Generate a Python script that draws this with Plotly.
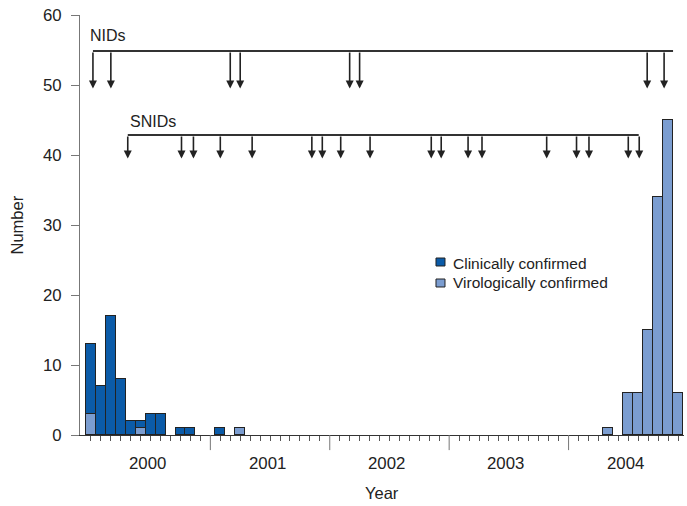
import plotly.graph_objects as go

# ---------------- data ----------------
month_index = list(range(60))  # monthly bins
clinical = [10, 7, 17, 8, 2, 1, 3, 3, 0, 1, 1, 0, 0, 1, 0, 0] + [0] * 44
virological = [3, 0, 0, 0, 0, 1, 0, 0, 0, 0, 0, 0, 0, 0, 0, 1] + [0] * 36 + [1, 0, 6, 6, 15, 34, 45, 6]

year_labels = ["2000", "2001", "2002", "2003", "2004"]
year_starts = [0, 12, 24, 36, 48]

nid_rounds = [0.2, 2.0, 14.0, 15.0, 26.0, 27.0, 55.9, 57.6]
nid_span_end = 58.5
snid_rounds = [3.7, 9.1, 10.3, 13.0, 16.2, 22.2, 23.25, 25.1, 28.05,
               34.2, 35.2, 37.9, 39.3, 45.8, 48.8, 50.05, 54.0, 55.1]
snid_span_end = 55.05

series_names = ["Clinically confirmed", "Virologically confirmed"]
colors = {"Clinically confirmed": "#0b5ba8", "Virologically confirmed": "#7b9dd0"}

FONT = "Liberation Sans, Arial, sans-serif"
TXT = "#222222"
FS_LEG = 15.5
FS_LBL = 16
FS_NUM = 16.8
FS_TITLE = 16.5

def nz(v):
    return [x if x else None for x in v]

fig = go.Figure()
fig.add_trace(go.Bar(x=month_index, y=nz(virological), name=series_names[1], width=1,
                     marker=dict(color=colors[series_names[1]], line=dict(color="#222", width=1)),
                     showlegend=False))
fig.add_trace(go.Bar(x=month_index, y=nz(clinical), name=series_names[0], width=1,
                     marker=dict(color=colors[series_names[0]], line=dict(color="#222", width=1)),
                     showlegend=False))

shapes = []
annotations = []

# campaign lines and arrows
def campaign(rounds, span_end, line_y, tip_y, label, label_x, label_y):
    shapes.append(dict(type="line", xref="x", yref="y", x0=rounds[0], x1=span_end,
                       y0=line_y, y1=line_y, line=dict(color="#333", width=2)))
    for r in rounds:
        annotations.append(dict(x=r, y=tip_y, ax=r, ay=line_y, xref="x", yref="y",
                                axref="x", ayref="y", showarrow=True, arrowhead=2,
                                arrowsize=1.0, arrowwidth=1.6, arrowcolor="#222", text=""))
    annotations.append(dict(x=label_x, y=label_y, xref="x", yref="y", text=label,
                            showarrow=False, xanchor="left", yanchor="middle",
                            font=dict(family=FONT, size=FS_LBL, color=TXT)))

campaign(nid_rounds, nid_span_end, 54.86, 49.5, "NIDs", -0.25, 57.1)
campaign(snid_rounds, snid_span_end, 42.86, 39.5, "SNIDs", 3.75, 44.85)

# year separator ticks and labels
for ys, yl in zip(year_starts, year_labels):
    if ys > 0:
        shapes.append(dict(type="line", xref="x", yref="paper", x0=ys, x1=ys, y0=0, y1=-0.036,
                           line=dict(color="#777", width=1)))
    annotations.append(dict(x=ys + 5.7, y=-0.069, xref="x", yref="paper", text=yl,
                            showarrow=False, xanchor="center", yanchor="middle",
                            font=dict(family=FONT, size=FS_NUM, color=TXT)))

# manual legend
leg_rows = [(series_names[0], 0.4214, 0.4024, 0.4095), (series_names[1], 0.3714, 0.3524, 0.362)]
for name, y1, y0, yt in leg_rows:
    shapes.append(dict(type="rect", xref="paper", yref="paper", x0=0.5894, x1=0.6043, y0=y0, y1=y1,
                       fillcolor=colors[name], line=dict(color="#222", width=1)))
    annotations.append(dict(x=0.6135, y=yt, xref="paper", yref="paper", text=name, showarrow=False,
                            xanchor="left", yanchor="middle",
                            font=dict(family=FONT, size=FS_LEG, color=TXT)))

# axis titles
annotations.append(dict(x=0.5, y=-0.138, xref="paper", yref="paper", text="Year", showarrow=False,
                        xanchor="center", yanchor="middle",
                        font=dict(family=FONT, size=FS_TITLE, color=TXT)))
annotations.append(dict(x=-0.1035, y=0.5, xref="paper", yref="paper", text="Number", showarrow=False,
                        textangle=-90, xanchor="center", yanchor="middle",
                        font=dict(family=FONT, size=FS_TITLE, color=TXT)))

small_ticks = [m for m in month_index if m not in year_starts[1:]]

fig.update_layout(
    width=687, height=506,
    margin=dict(l=80, r=3, t=15, b=71, autoexpand=False),
    paper_bgcolor="white", plot_bgcolor="white",
    barmode="stack", bargap=0,
    shapes=shapes, annotations=annotations,
    font=dict(family=FONT, size=FS_NUM, color=TXT),
    xaxis=dict(range=[-1.1, 59.6], showgrid=False, zeroline=False, showline=True,
               linecolor="#333", linewidth=1.2, tickmode="array", tickvals=small_ticks,
               ticktext=[""] * len(small_ticks), ticks="outside", ticklen=5,
               tickcolor="#555", tickwidth=1, fixedrange=True, automargin=False),
    yaxis=dict(range=[0, 60], tickvals=[0, 10, 20, 30, 40, 50, 60], showgrid=False,
               zeroline=False, showline=True, linecolor="#777", linewidth=1,
               ticks="outside", ticklen=8, tickcolor="#777", tickwidth=1,
               ticklabelstandoff=6, ticklabeloverflow="allow", automargin=False,
               tickfont=dict(family=FONT, size=FS_NUM, color=TXT)),
)

# remove the browser's default 8px page margin so the figure sits at the window origin
fig.write_html("out.html", config={"displayModeBar": False},
               post_script="document.body.style.margin='0';document.body.style.overflow='hidden';")
